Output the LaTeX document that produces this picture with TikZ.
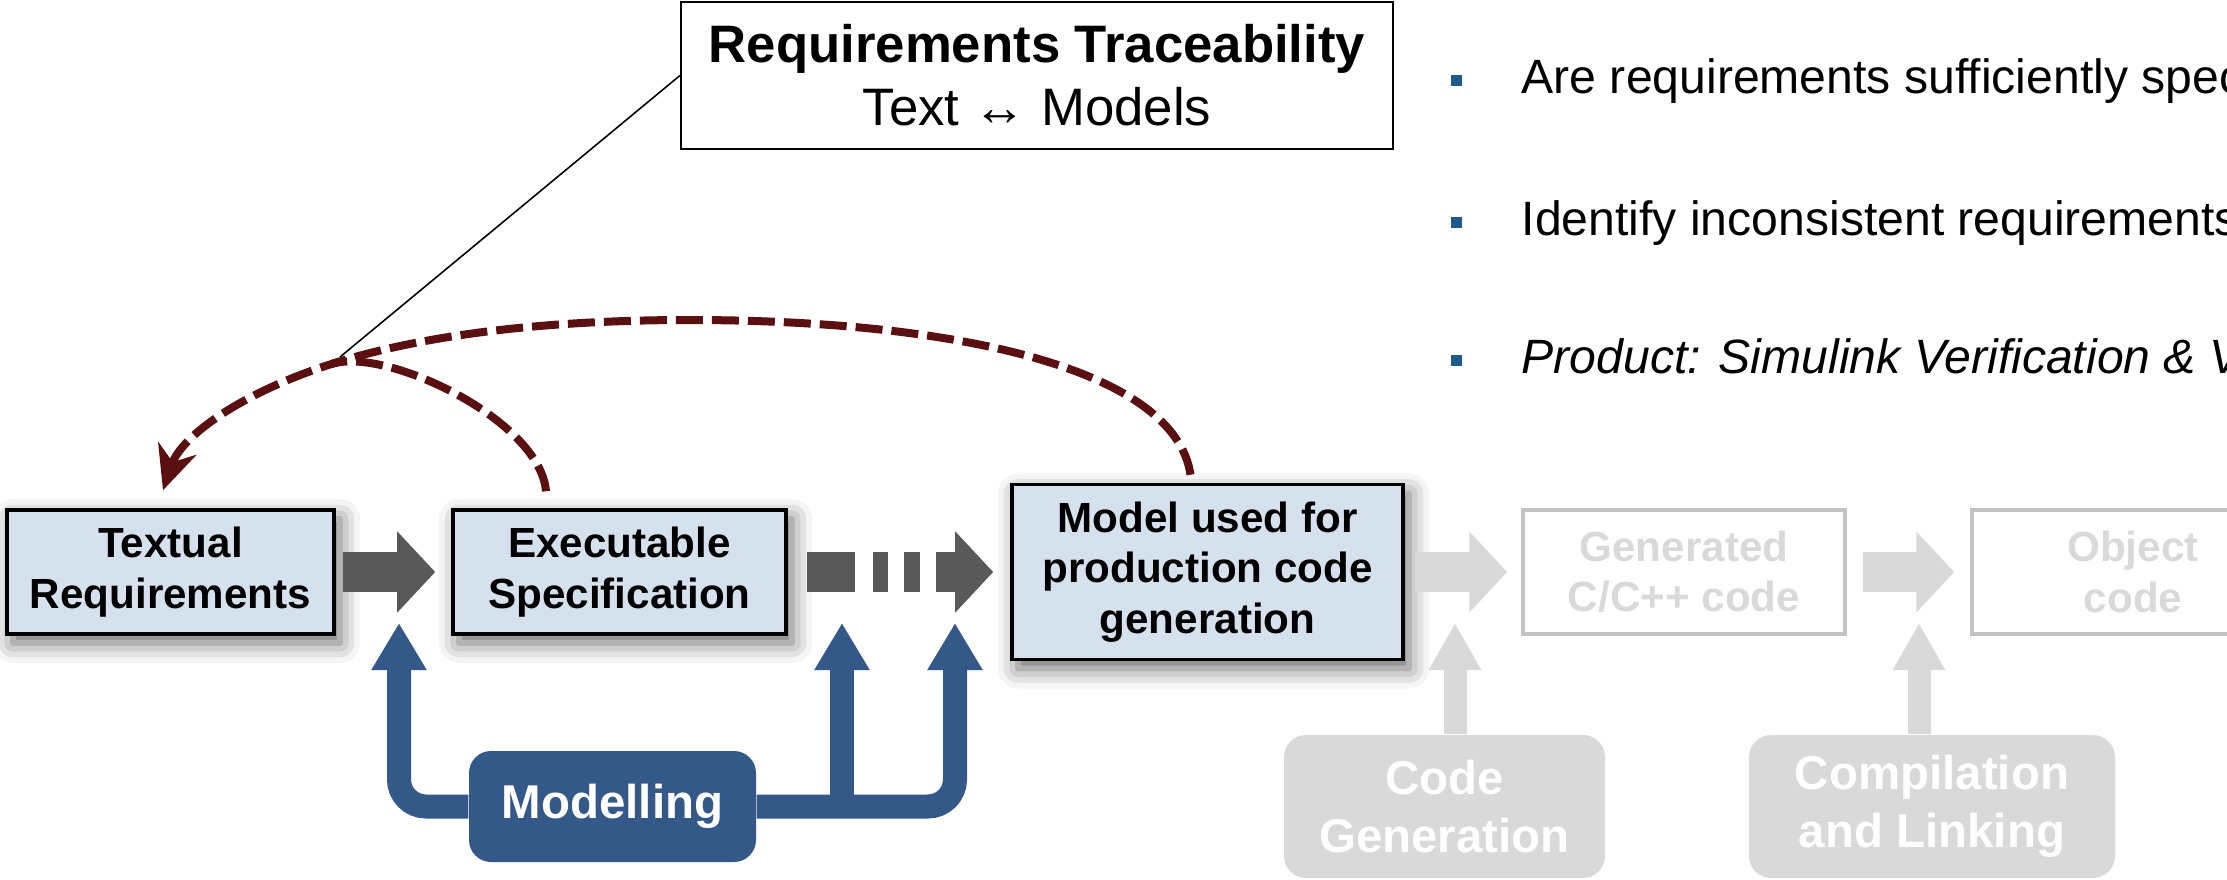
\documentclass[tikz,border=0pt]{standalone}
\usepackage{fontspec}
\setmainfont{Liberation Sans}
\usetikzlibrary{arrows.meta, shadows.blur}
\definecolor{boxblue}{RGB}{214,225,238}
\definecolor{modblue}{RGB}{52,88,135}
\definecolor{tracered}{RGB}{90,16,16}
\definecolor{flowgray}{RGB}{89,89,89}
\definecolor{fadegray}{RGB}{217,217,217}
\definecolor{fadeline}{RGB}{195,195,195}
\definecolor{dotblue}{RGB}{31,90,140}
\tikzstyle{block} = [rectangle, 
draw=black, line width=1pt, fill=boxblue,
minimum height=1.24cm, 
align=center, 
font=\fontsize{12}{14.3}\selectfont\bfseries,
blur shadow={shadow xshift=0.06cm, shadow yshift=-0.09cm, shadow blur radius=0.2cm, shadow opacity=60}]
\tikzstyle{faded} = [rectangle, 
draw=fadeline, line width=1pt, text=fadegray,
minimum width=3.22cm, minimum height=1.24cm, 
align=center, 
font=\fontsize{12}{14.3}\selectfont\bfseries]
\tikzstyle{action} = [rectangle, rounded corners=0.22cm,
minimum height=1.43cm,
align=center, text=white,
font=\fontsize{13.5}{16.5}\selectfont\bfseries]
\tikzstyle{flow} = [line width=0.40cm, draw=flowgray, -{Triangle[width=0.79cm,length=0.38cm]}]
\tikzstyle{fadeflow} = [flow, draw=fadegray]
\tikzstyle{feed} = [line width=0.24cm, draw=modblue, rounded corners=0.27cm, -{Triangle[width=0.52cm,length=0.47cm]}]
\tikzstyle{fadefeed} = [line width=0.23cm, draw=fadegray, -{Triangle[width=0.49cm,length=0.47cm]}]
\tikzstyle{trace} = [line width=0.08cm, draw=tracered, dash pattern=on 0.27cm off 0.09cm]
\tikzstyle{bullet} = [rectangle, fill=dotblue, minimum size=0.11cm, inner sep=0pt]
\tikzstyle{point} = [anchor=base west, inner sep=0pt, font=\fontsize{13.7}{16}\selectfont]
\begin{document}
\begin{tikzpicture}
    \useasboundingbox (0,0) rectangle (22.27,-8.8);
    \clip (0,0) rectangle (22.27,-8.8);

        \node (textual) [block, minimum width=3.27cm] at (1.705,-5.72) {Textual\\Requirements};
        \node (exec) [block, minimum width=3.33cm, node distance=4.49cm, right of=textual] {Executable\\Specification};
        \node (model) [block, minimum width=3.91cm, minimum height=1.75cm, node distance=5.88cm, right of=exec] {Model used for\\production code\\generation};
        \node (gen) [faded, node distance=4.765cm, right of=model] {Generated\\C/C++ code};
        \node (object) [faded, node distance=4.49cm, right of=gen] {Object\\code};

        \node (modelling) [action, fill=modblue, minimum width=2.87cm, minimum height=1.11cm] at (6.125,-8.065) {Modelling};
        \node (codegen) [action, fill=fadegray, minimum width=3.21cm] at (14.445,-8.065) {Code\\Generation};
        \node (compile) [action, fill=fadegray, minimum width=3.66cm] at (19.32,-8.065) {Compilation\\and Linking};

        \node (tracebox) [draw, fill=white, line width=0.6pt, minimum width=7.12cm, minimum height=1.47cm, align=center, font=\fontsize{15}{17.9}\selectfont] at (10.37,-0.755) {\textbf{Requirements Traceability}\\Text ↔ Models};

        \node (dot1) [bullet] at (14.565,-0.805) {};
        \node (dot2) [bullet] at (14.565,-2.225) {};
        \node (dot3) [bullet] at (14.565,-3.605) {};
        \node (point1) [point] at (15.21,-0.93) {Are requirements sufficiently specified?};
        \node (point2) [point] at (15.21,-2.35) {Identify inconsistent requirements};
        \node (point3) [point] at (15.21,-3.73) {\itshape Product: Simulink Verification \& Validation};

        \draw [flow, shorten <=0.07cm, shorten >=0.16cm] (textual.east) -- (exec.west);
        \draw [flow, dash pattern=on 0.48cm off 0.18cm on 0.15cm off 0.16cm on 0.16cm off 0.16cm on 2cm, shorten <=0.19cm, shorten >=0.17cm] (exec.east) -- (model.west);
        \draw [fadeflow, shorten <=0.10cm, shorten >=0.14cm] (model.east) -- (gen.west);
        \draw [fadeflow, shorten <=0.16cm, shorten >=0.16cm] (gen.east) -- (object.west);

        \coordinate (specin) at (3.99,-6.23);
        \coordinate (modelin1) at (8.42,-6.23);
        \coordinate (modelin2) at (9.55,-6.23);
        \draw [feed] (modelling.west) -| (specin);
        \draw [feed] (modelling.east) -| (modelin2);
        \draw [feed] (modelling.east -| modelin1) -- (modelin1);

        \coordinate (gentap) at (14.55,-6.23);
        \coordinate (objtap) at (19.19,-6.23);
        \draw [fadefeed] (codegen.north -| gentap) -- (gentap);
        \draw [fadefeed] (compile.north -| objtap) -- (objtap);

        \coordinate (callout) at (3.40,-3.57);
        \coordinate (merge) at (3.315,-3.64);
        \draw [line width=0.45pt] (tracebox.west) -- (callout);
        \draw [trace, -{Stealth[length=0.44cm,width=0.40cm]}] ([shift={(-0.17,0.08)}]model.north) .. controls (11.75,-3.7) and (9.6,-3.2) .. (6.89,-3.2) .. controls (5.445,-3.2) and (4.2225,-3.35) .. (merge) .. controls (2.4075,-3.93) and (1.815,-4.36) .. ([shift={(-0.075,0.18)}]textual.north);
        \draw [trace] ([shift={(-0.735,0.17)}]exec.north) .. controls (5.40,-4.20) and (3.86,-3.466) .. (merge);
    \end{tikzpicture}
\end{document}
